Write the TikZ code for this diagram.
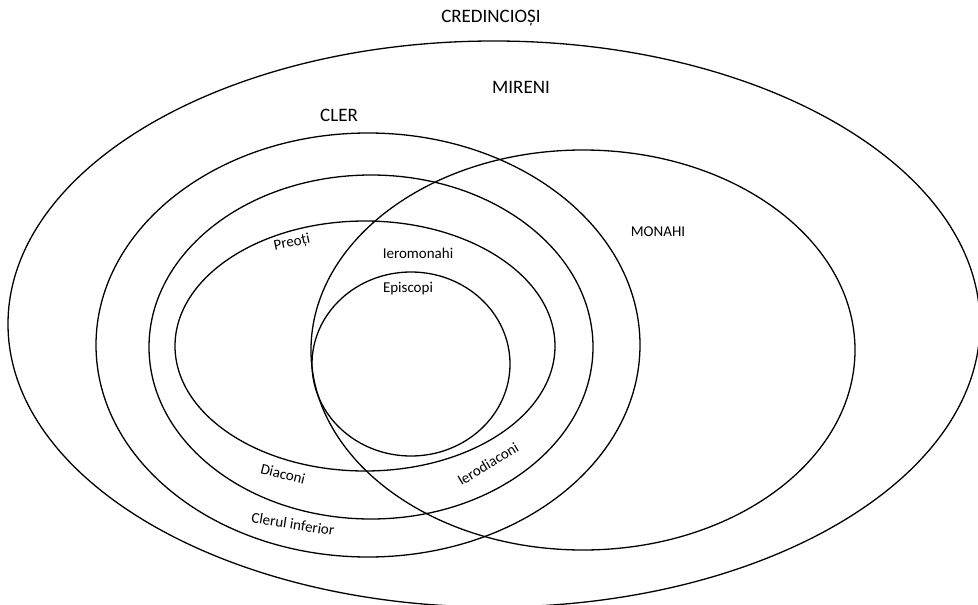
\documentclass[tikz,border=0pt]{standalone}
\usepackage{fontspec}
\setmainfont{Carlito}
\usepackage{tikz}

\tikzset{
  set/.style = {line width = 1.3pt},
  biglabel/.style = {font = \fontsize{19}{22}\selectfont},
  smalllabel/.style = {font = \fontsize{15}{18}\selectfont}
}

\begin{document}
\begin{tikzpicture}[x = 1pt, y = -1pt]
\useasboundingbox (0, 0) rectangle (978, 605);
%\draw[very thin, color = gray](0, 0) grid[step = 50] (978, 605);
% sets
\draw [set] (494, 324) ellipse [x radius = 486, y radius = 283];
\draw [set] (368, 345) ellipse [x radius = 272, y radius = 212];
\draw [set] (371, 347) ellipse [x radius = 222, y radius = 172];
\draw [set] (365, 346) ellipse [x radius = 190, y radius = 125];
\draw [set] (411, 364) ellipse [x radius = 99, y radius = 92];
\draw [set] (583, 350) ellipse [x radius = 272, y radius = 200];
% labels
\node (credinciosi) at (491, 18) [biglabel] {CREDINCIOȘI};
\node (mireni) at (521, 87) [biglabel] {MIRENI};
\node (cler) at (339, 115) [biglabel] {CLER};
\node (monahi) at (658, 232) [smalllabel] {MONAHI};
\node (preoti) at (292, 243) [smalllabel, rotate = 12] {Preoți};
\node (ieromonahi) at (418, 253) [smalllabel] {Ieromonahi};
\node (episcopi) at (408, 289) [smalllabel] {Episcopi};
\node (diaconi) at (283, 474) [smalllabel, rotate = -14] {Diaconi};
\node (ierodiaconi) at (488, 464) [smalllabel, rotate = 31] {Ierodiaconi};
\node (clerul) at (293, 524) [smalllabel, rotate = -9] {Clerul inferior};
\end{tikzpicture}
\end{document}
